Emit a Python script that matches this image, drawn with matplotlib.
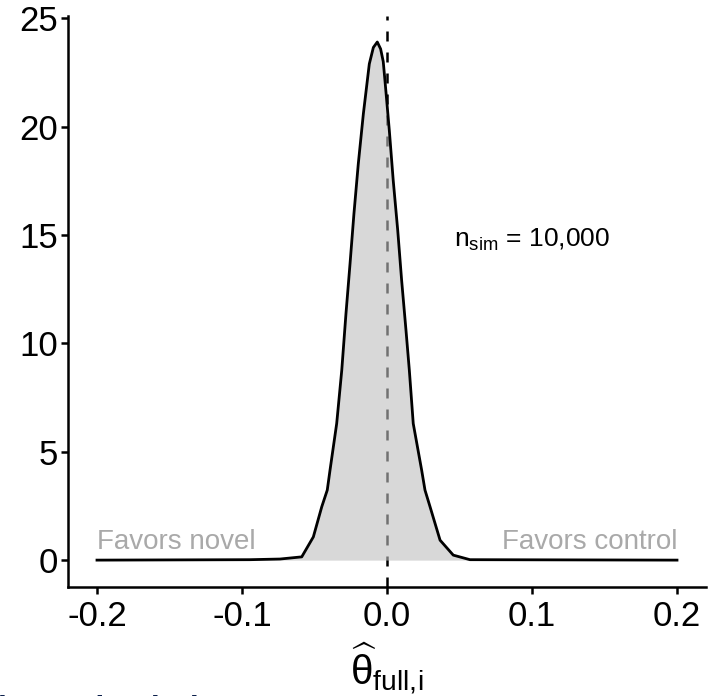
import matplotlib
matplotlib.use("Agg")
import matplotlib.pyplot as plt
import numpy as np

plt.rcParams['font.family'] = ['Liberation Sans', 'DejaVu Sans']
plt.rcParams['mathtext.fontset'] = 'custom'
plt.rcParams['mathtext.rm'] = 'Liberation Sans'
plt.rcParams['mathtext.it'] = 'Liberation Sans:italic'

# density of the simulated estimates
theta = [-0.2, -0.0945, -0.0738, -0.0588, -0.0508, -0.0450, -0.0412, -0.0393,
         -0.0347, -0.0312, -0.0283, -0.0255, -0.0228, -0.0198, -0.0163, -0.0122,
         -0.0094, -0.0067, -0.0044, -0.0026, -0.0014, 0.0016, 0.0043, 0.0074,
         0.0101, 0.0131, 0.0154, 0.0181, 0.0239, 0.0262, 0.0297, 0.0366,
         0.0457, 0.0572, 0.2]
density = [0.0, 0.02, 0.05, 0.15, 1.07, 2.46, 3.23, 4.15,
           6.30, 8.76, 11.37, 13.67, 15.98, 18.28, 20.59, 22.89,
           23.65, 23.9, 23.58, 23.0, 22.12, 19.82, 17.51, 15.21,
           12.90, 10.60, 8.76, 6.30, 4.15, 3.23, 2.46, 0.92,
           0.23, 0.02, 0.0]

xticks = [-0.2, -0.1, 0.0, 0.1, 0.2]
xtick_labels = ['-0.2', '-0.1', '0.0', '0.1', '0.2']
yticks = [0, 5, 10, 15, 20, 25]

fig = plt.figure(figsize=(7.13, 6.96), dpi=100)
ax = fig.add_axes([68 / 713, 109 / 696, 638 / 713, 571 / 696])

# reference line under the shaded area
ax.axvline(0, color='black', lw=1.8, dashes=(4, 4.4), zorder=1)
ax.fill_between(theta, density, 0, color='#bebebe', alpha=0.6, lw=0, zorder=2)
ax.plot(theta, density, color='black', lw=2.0, zorder=3, solid_joinstyle='round')

ax.text(-0.2, 0.5, 'Favors novel', color='#a9a9a9', fontsize=20, ha='left', va='baseline')
ax.text(0.2, 0.5, 'Favors control', color='#a9a9a9', fontsize=20, ha='right', va='baseline')
ax.text(0.0465, 14.45, r'$\mathrm{n_{sim}}$ = 10,000', fontsize=19, ha='left', va='baseline')

ax.set_xlim(-0.22, 0.22)
ax.set_ylim(-1.24, 25.1)
ax.set_xticks(xticks)
ax.set_xticklabels(xtick_labels)
ax.set_yticks(yticks)
ax.tick_params(labelsize=25, width=1.8, length=5, colors='black')
ax.tick_params(axis='y', pad=2)
ax.tick_params(axis='x', pad=4)

for side in ['top', 'right']:
    ax.spines[side].set_visible(False)
for side in ['left', 'bottom']:
    ax.spines[side].set_linewidth(1.8)

ax.set_xlabel(r'$\widehat{\mathrm{\theta}}_{\mathrm{full,\!i}}$', fontsize=29, labelpad=6)

# slide title cut off by the bottom edge
fig.text(-0.164, -0.05, 'Simulated trial', color='#0b1f4b', fontsize=36,
         ha='left', va='baseline')

fig.savefig('out.png', dpi=100)
